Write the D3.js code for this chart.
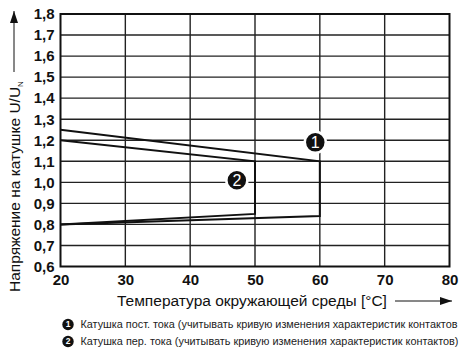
<!DOCTYPE html>
<meta charset="utf-8">
<head>
	<title>Напряжение на катушке</title>
</head>

<style>
body{
	margin: 0;
	background: #fff;
}
svg{
	font-family: "Liberation Sans", Arial, sans-serif;
}
.tick text{
	font-weight: bold;
	font-size: 15px;
	fill: #111;
}
.grid line{
	stroke: #222;
	stroke-width: 1.4;
}
.curve{
	fill: none;
	stroke: #111;
	stroke-width: 2;
}
</style>

<body>
<svg width="459" height="357"></svg>

<script src="https://cdnjs.cloudflare.com/ajax/libs/d3/7.8.5/d3.min.js"></script>
<script>

// data
var xTicks = [20, 30, 40, 50, 60, 70, 80];
var yTicks = [0.6, 0.7, 0.8, 0.9, 1.0, 1.1, 1.2, 1.3, 1.4, 1.5, 1.6, 1.7, 1.8];

// 1: DC coil, 2: AC coil  ([temperature, U/Un])
var curveDC = [[20, 1.25], [60, 1.1], [60, 0.84], [20, 0.8]];
var curveAC = [[20, 1.2], [50, 1.1], [50, 0.85], [20, 0.8]];

var markers = [
	{label: '1', t: 59.3, u: 1.19},
	{label: '2', t: 47.2, u: 1.01}
];

var legendText = [
	'Катушка пост. тока (учитывать кривую изменения характеристик контактов',
	'Катушка пер. тока (учитывать кривую изменения характеристик контактов)'
];

var svg = d3.select('svg');

var x = d3.scaleLinear().domain([20, 80]).range([60.5, 449.5]);
var y = d3.scaleLinear().domain([0.6, 1.8]).range([266.5, 14]);

var fmt = function(d){ return d3.format('.1f')(d).replace('.', ','); };

// grid
var grid = svg.append('g').attr('class', 'grid');
grid.selectAll('.v')
	.data(xTicks.slice(1, -1))
	.enter()
	.append('line')
	.attr('x1', function(d){ return x(d); })
	.attr('x2', function(d){ return x(d); })
	.attr('y1', y(1.8))
	.attr('y2', y(0.6));
grid.selectAll('.h')
	.data(yTicks.slice(1, -1))
	.enter()
	.append('line')
	.attr('y1', function(d){ return y(d); })
	.attr('y2', function(d){ return y(d); })
	.attr('x1', x(20))
	.attr('x2', x(80));

// frame
svg.append('rect')
	.attr('x', x(20))
	.attr('y', y(1.8))
	.attr('width', x(80) - x(20))
	.attr('height', y(0.6) - y(1.8))
	.attr('fill', 'none')
	.attr('stroke', '#111')
	.attr('stroke-width', 2);

// axes (labels only)
var xAxis = d3.axisBottom(x).tickValues(xTicks).tickSize(0).tickPadding(8);
svg.append('g')
	.attr('transform', 'translate(0,' + y(0.6) + ')')
	.call(xAxis)
	.call(function(g){ g.select('.domain').remove(); });

var yAxis = d3.axisLeft(y).tickValues(yTicks).tickFormat(fmt).tickSize(0).tickPadding(6);
svg.append('g')
	.attr('transform', 'translate(' + x(20) + ',0)')
	.call(yAxis)
	.call(function(g){ g.select('.domain').remove(); });

// curves
var line = d3.line()
	.x(function(d){ return x(d[0]); })
	.y(function(d){ return y(d[1]); });

svg.selectAll('.curve')
	.data([curveDC, curveAC])
	.enter()
	.append('path')
	.attr('class', 'curve')
	.attr('d', line);

// numbered markers
var m = svg.selectAll('.marker')
	.data(markers)
	.enter()
	.append('g')
	.attr('transform', function(d){ return 'translate(' + x(d.t) + ',' + y(d.u) + ')'; });
m.append('circle')
	.attr('r', 10.5)
	.attr('fill', '#111')
	.attr('stroke', '#fff')
	.attr('stroke-width', 2.5);
m.append('text')
	.attr('text-anchor', 'middle')
	.attr('dy', '0.36em')
	.attr('fill', '#fff')
	.style('font-size', '16px')
	.text(function(d){ return d.label; });

// x title + arrow
svg.append('defs').append('marker')
	.attr('id', 'arr')
	.attr('viewBox', '0 0 12 10')
	.attr('refX', 12)
	.attr('refY', 5)
	.attr('markerWidth', 12)
	.attr('markerHeight', 10)
	.attr('markerUnits', 'userSpaceOnUse')
	.attr('orient', 'auto')
	.append('path')
	.attr('d', 'M0,1L12,5L0,9Z')
	.attr('fill', '#111');

svg.append('text')
	.attr('x', 117)
	.attr('y', 306)
	.style('font-size', '15.5px')
	.attr('fill', '#111')
	.text('Температура окружающей среды [°C]');

svg.append('line')
	.attr('x1', 395).attr('x2', 452)
	.attr('y1', 301).attr('y2', 301)
	.attr('stroke', '#111')
	.attr('stroke-width', 1)
	.attr('marker-end', 'url(#arr)');

// y title + arrow
var yt = svg.append('text')
	.attr('transform', 'translate(19.5,292) rotate(-90)')
	.style('font-size', '15.5px')
	.attr('fill', '#111');
yt.append('tspan').text('Напряжение на катушке U/U');
yt.append('tspan').attr('dy', 3).style('font-size', '8px').text('N');

svg.append('line')
	.attr('x1', 14).attr('x2', 14)
	.attr('y1', 72).attr('y2', 11)
	.attr('stroke', '#111')
	.attr('stroke-width', 1)
	.attr('marker-end', 'url(#arr)');

// legend
var lg = svg.selectAll('.legend')
	.data(legendText)
	.enter()
	.append('g')
	.attr('transform', function(d, i){ return 'translate(68,' + (324.5 + i * 17) + ')'; });
lg.append('circle')
	.attr('r', 5.7)
	.attr('fill', '#111');
lg.append('text')
	.attr('text-anchor', 'middle')
	.attr('dy', '0.35em')
	.attr('fill', '#fff')
	.style('font-size', '8.5px')
	.style('font-weight', 'bold')
	.text(function(d, i){ return i + 1; });
lg.append('text')
	.attr('x', 12.5)
	.attr('dy', '0.35em')
	.attr('fill', '#222')
	.style('font-size', '10px')
	.attr('textLength', function(d, i){ return i === 0 ? 377 : 378; })
	.attr('lengthAdjust', 'spacingAndGlyphs')
	.text(function(d){ return d; });

</script>
</body>
</html>
